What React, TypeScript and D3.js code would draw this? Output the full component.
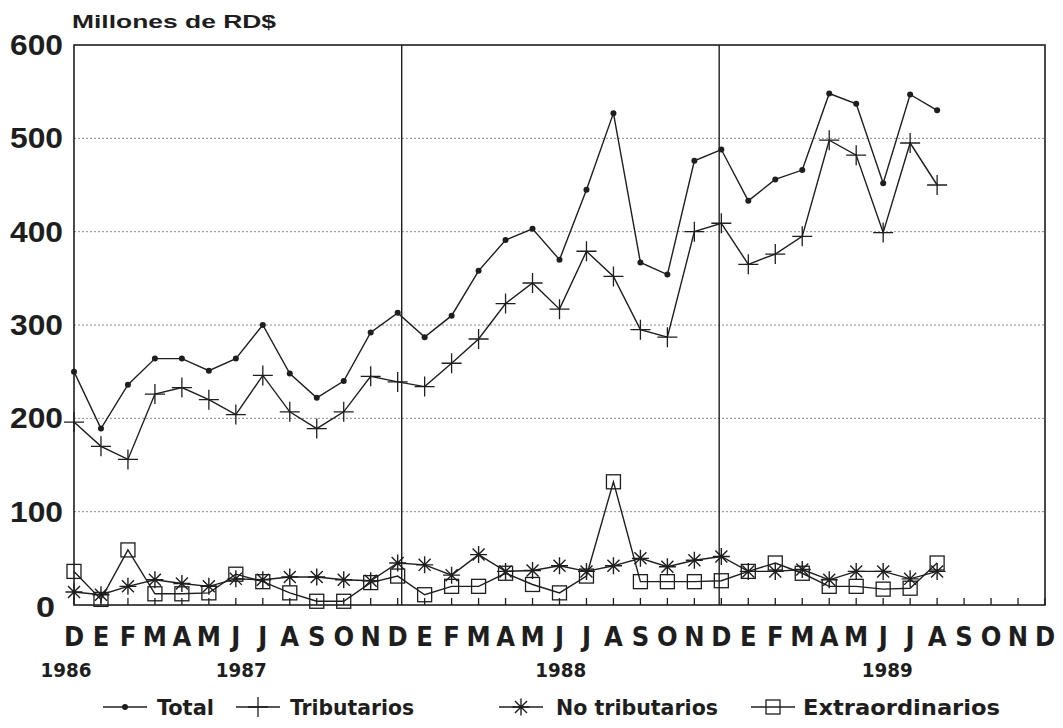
import React from 'react';
import * as d3 from 'd3';

const months = [
  'D',
  'E', 'F', 'M', 'A', 'M', 'J', 'J', 'A', 'S', 'O', 'N', 'D',
  'E', 'F', 'M', 'A', 'M', 'J', 'J', 'A', 'S', 'O', 'N', 'D',
  'E', 'F', 'M', 'A', 'M', 'J', 'J', 'A', 'S', 'O', 'N', 'D',
];
const years = ['1986', '1987', '1988', '1989'];
const yearAt = [-0.3, 6.2, 18.05, 30.15]; // month index where each year label sits
const separators = [12.15, 23.92];
const yTicks = [0, 100, 200, 300, 400, 500, 600];

// Millones de RD$, monthly from Dec 1986 to Aug 1989
const total = [250, 189, 236, 264, 264, 251, 264, 300, 248, 222, 240, 292, 313,
  287, 310, 358, 391, 403, 370, 445, 527, 367, 354, 476, 488,
  433, 456, 466, 548, 537, 452, 547, 530];
const tributarios = [196, 170, 156, 226, 233, 220, 204, 246, 207, 189, 207, 245, 239,
  234, 259, 285, 323, 345, 317, 379, 352, 295, 287, 400, 409,
  365, 376, 395, 498, 482, 399, 495, 450];
const noTributarios = [14, 11, 20, 27, 23, 20, 28, 27, 30, 30, 27, 26, 45,
  43, 32, 54, 36, 37, 42, 36, 42, 50, 41, 48, 52,
  36, 36, 38, 27, 36, 36, 28, 36];
const extraordinarios = [36, 6, 59, 12, 12, 13, 33, 25, 13, 4, 4, 24, 31,
  11, 20, 20, 34, 22, 13, 31, 132, 25, 25, 25, 26,
  36, 45, 34, 20, 20, 17, 18, 45];

type Kind = 'dot' | 'plus' | 'star' | 'square';

const seriesList: { name: string; values: number[]; kind: Kind }[] = [
  { name: 'Total', values: total, kind: 'dot' },
  { name: 'Tributarios', values: tributarios, kind: 'plus' },
  { name: 'No tributarios', values: noTributarios, kind: 'star' },
  { name: 'Extraordinarios', values: extraordinarios, kind: 'square' },
];

const INK = '#1e1e1e';
const FONT = '"Liberation Sans", Arial, sans-serif';
const NARROW = '"Liberation Sans Narrow", "DejaVu Sans Condensed", "Liberation Sans", sans-serif';

function Marker({ kind, x, y }: { kind: Kind; x: number; y: number }) {
  if (kind === 'dot') return <circle cx={x} cy={y} r={3} fill={INK} />;
  if (kind === 'plus') {
    return (
      <path d={`M${x - 10},${y}H${x + 10}M${x},${y - 10}V${y + 10}`} stroke={INK} strokeWidth={1.3} fill="none" />
    );
  }
  if (kind === 'star') {
    const r = 8.5;
    const d = r * Math.SQRT1_2;
    return (
      <path
        d={`M${x - r},${y}H${x + r}M${x},${y - r}V${y + r}M${x - d},${y - d}L${x + d},${y + d}M${x - d},${y + d}L${x + d},${y - d}`}
        stroke={INK}
        strokeWidth={1.4}
        fill="none"
      />
    );
  }
  return <rect x={x - 7} y={y - 7} width={14} height={14} fill="none" stroke={INK} strokeWidth={1.3} />;
}

export default function App() {
  const W = 1063;
  const H = 728;
  const left = 74;
  const right = 1045;
  const top = 45;
  const bottom = 605;

  const x = d3.scaleLinear().domain([0, months.length - 1]).range([left, right]);
  const y = d3.scaleLinear().domain([0, 600]).range([bottom, top]);

  const line = d3.line<number>()
    .x((_, i) => x(i))
    .y(d => y(d));

  const legendItems = [
    { kind: 'dot' as Kind, label: 'Total', mx: 125, tx: 157, tw: 57 },
    { kind: 'plus' as Kind, label: 'Tributarios', mx: 258, tx: 290, tw: 124 },
    { kind: 'star' as Kind, label: 'No tributarios', mx: 521, tx: 556, tw: 162 },
    { kind: 'square' as Kind, label: 'Extraordinarios', mx: 773, tx: 803, tw: 197 },
  ];
  const legendY = 707;

  return (
    <svg width={W} height={H} style={{ position: 'absolute', left: 0, top: 0, background: '#fff' }}>
      <rect width={W} height={H} fill="#fff" />

      <text x={72} y={28} fontFamily={FONT} fontWeight="bold" fontSize={19} fill={INK}
        textLength={204} lengthAdjust="spacingAndGlyphs">
        Millones de RD$
      </text>

      {/* grid */}
      {yTicks.filter(t => t > 0 && t < 600).map(t => (
        <line key={t} x1={left} x2={right} y1={y(t)} y2={y(t)} stroke="#8a8a8a" strokeWidth={1} strokeDasharray="2,2" />
      ))}

      {/* frame */}
      <rect x={left} y={top} width={right - left} height={bottom - top} fill="none" stroke={INK} strokeWidth={1.6} />
      {separators.map(s => (
        <line key={s} x1={x(s)} x2={x(s)} y1={top} y2={bottom} stroke={INK} strokeWidth={1.4} />
      ))}
      {months.map((_, i) => (
        <line key={i} x1={x(i)} x2={x(i)} y1={bottom} y2={bottom - 7} stroke={INK} strokeWidth={1.3} />
      ))}

      {/* y labels */}
      {yTicks.map(t => (
        <text key={t} x={t === 0 ? 55 : 63} y={y(t) + (t === 0 ? 12 : 10)} textAnchor="end" fontFamily={FONT}
          fontWeight="bold" fontSize={29} fill={INK}
          textLength={t === 0 ? 19 : 53} lengthAdjust="spacingAndGlyphs">
          {t}
        </text>
      ))}

      {/* month letters */}
      {months.map((m, i) => (
        <text key={i} x={x(i)} y={646} textAnchor="middle" fontFamily={NARROW} fontWeight="bold" fontSize={27} fill={INK}>
          {m}
        </text>
      ))}
      {years.map((yr, i) => (
        <text key={yr} x={x(yearAt[i])} y={677} textAnchor="middle" fontFamily={NARROW} fontWeight="bold"
          fontSize={20} fill={INK} textLength={51} lengthAdjust="spacingAndGlyphs">
          {yr}
        </text>
      ))}

      {/* series */}
      {seriesList.map(s => (
        <g key={s.name}>
          <path d={line(s.values) || ''} fill="none" stroke={INK} strokeWidth={1.4} />
          {s.values.map((v, i) => (
            <Marker key={i} kind={s.kind} x={x(i)} y={y(v)} />
          ))}
        </g>
      ))}

      {/* legend */}
      {legendItems.map(it => (
        <g key={it.label}>
          <line x1={it.mx - 22} x2={it.mx + 22} y1={legendY} y2={legendY} stroke={INK} strokeWidth={1.3} />
          <Marker kind={it.kind} x={it.mx} y={legendY} />
          <text x={it.tx} y={legendY + 8} fontFamily={NARROW} fontWeight="bold" fontSize={21} fill={INK}
            textLength={it.tw} lengthAdjust="spacingAndGlyphs">
            {it.label}
          </text>
        </g>
      ))}
    </svg>
  );
}
